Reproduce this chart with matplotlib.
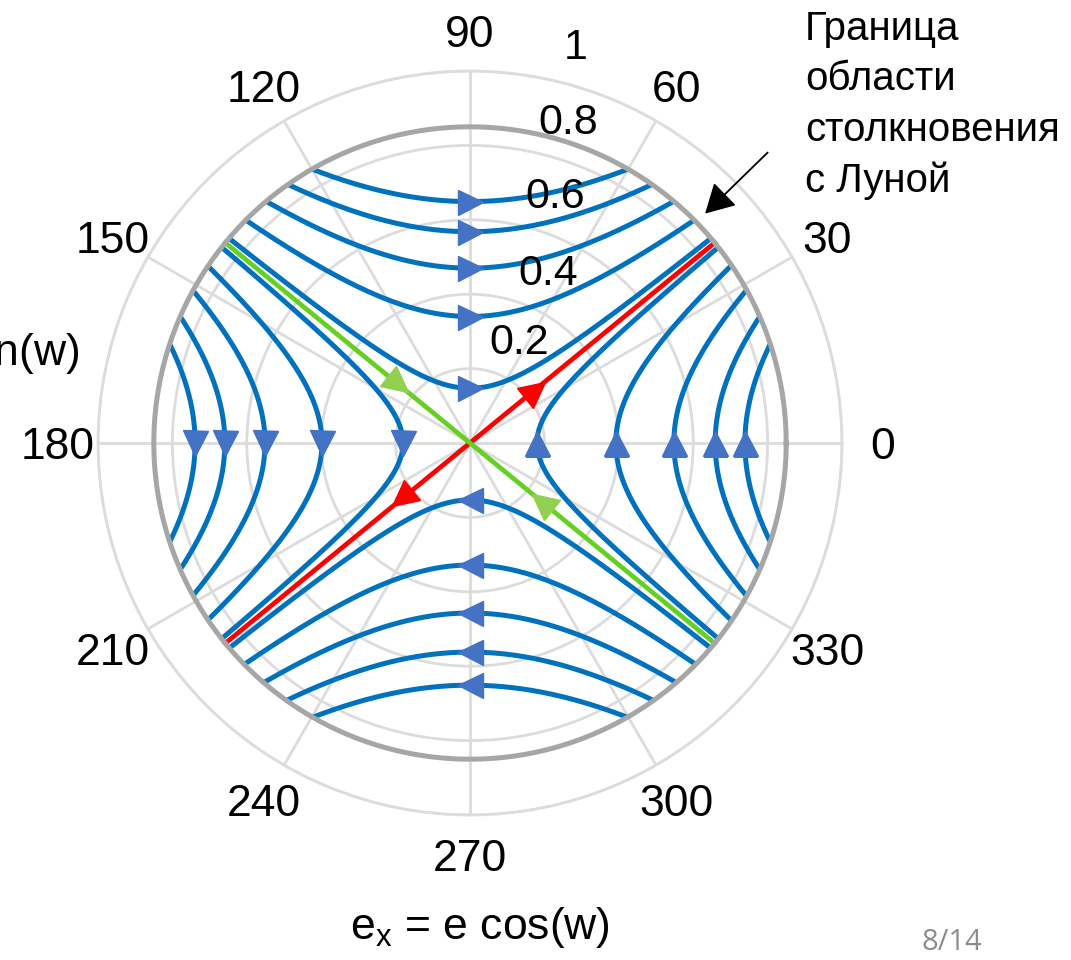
import numpy as np
import matplotlib
matplotlib.use('Agg')
import matplotlib.pyplot as plt
from matplotlib.markers import MarkerStyle
from matplotlib.transforms import Affine2D

plt.rcParams['font.family'] = 'Liberation Sans'
plt.rcParams['mathtext.fontset'] = 'custom'
plt.rcParams['mathtext.rm'] = 'Liberation Sans'
plt.rcParams['mathtext.it'] = 'Liberation Sans'

# vertices of the trajectories where they cross the axes (e units)
top_vertex = [0.649, 0.568, 0.470, 0.340, 0.147]
bottom_vertex = [0.153, 0.328, 0.457, 0.562, 0.651]
left_vertex = [0.739, 0.659, 0.551, 0.398, 0.180]
right_vertex = [0.180, 0.392, 0.548, 0.659, 0.739]

sep_angle = 39.3      # separatrix angle, deg
e_moon = 0.85         # boundary of the Moon collision region

# arrows on the separatrices: (angle deg, e)
red_arrows = [(39.3, 0.225), (219.3, 0.235)]
green_arrows = [(140.7, 0.25), (320.7, 0.25)]

theta_ticks = list(range(0, 360, 30))
r_ticks = [0.2, 0.4, 0.6, 0.8, 1.0]
r_ticklabels = ['0.2', '0.4', '0.6', '0.8', '1']
r_label_angle = [64, 65, 71, 73, 75]

BLUE = '#0072BD'
ARROW_BLUE = '#4472C4'
GRID = '#DCDCDC'

k = np.tan(np.deg2rad(sep_angle))


def branch(v, side):
    # hyperbola branch with vertex v on one axis, cut at the collision boundary
    if side in ('top', 'bottom'):
        smax = np.sqrt((e_moon**2 - v**2) / (1 + k**2))
        ex = np.linspace(-smax, smax, 400)
        ey = np.sqrt(v**2 + (k * ex)**2)
        if side == 'bottom':
            ey = -ey
    else:
        smax = np.sqrt((e_moon**2 - v**2) / (1 + 1 / k**2))
        ey = np.linspace(-smax, smax, 400)
        ex = np.sqrt(v**2 + (ey / k)**2)
        if side == 'left':
            ex = -ex
    return np.arctan2(ey, ex), np.hypot(ex, ey)


def tri(direction):
    # triangle marker pointing to direction (deg)
    return MarkerStyle('^', transform=Affine2D().rotate_deg(direction - 90))


fig = plt.figure(figsize=(10.71, 9.6), dpi=100)
ax = fig.add_axes([98 / 1071, 145 / 960, 744 / 1071, 744 / 960], projection='polar')

families = [('top', top_vertex, 90, 0), ('bottom', bottom_vertex, 270, 180),
            ('left', left_vertex, 180, 270), ('right', right_vertex, 0, 90)]
for side, verts, ang, direc in families:
    for v in verts:
        th, r = branch(v, side)
        ax.plot(th, r, color=BLUE, lw=3.6, solid_capstyle='butt', zorder=3)
    ax.plot(np.full(len(verts), np.deg2rad(ang)), verts, linestyle='none',
            marker=tri(direc), ms=18, color=ARROW_BLUE, zorder=5)

# separatrices
s = np.deg2rad(sep_angle)
ax.plot([s, s, s + np.pi], [e_moon, 0, e_moon], color='#FF0000', lw=3.4, zorder=4)
ax.plot([np.pi - s, np.pi - s, -s], [e_moon, 0, e_moon], color='#66D022', lw=3.4, zorder=4)
for a, r in red_arrows:
    ax.plot(np.deg2rad(a), r, marker=tri(a), ms=18, color='#FF0000', zorder=5)
for a, r in green_arrows:
    ax.plot(np.deg2rad(a), r, marker=tri(a + 180), ms=18, color='#92D050', zorder=5)

# collision boundary
tt = np.linspace(0, 2 * np.pi, 400)
ax.plot(tt, np.full_like(tt, e_moon), color='#A6A6A6', lw=3.6, zorder=4)

ax.set_ylim(0, 1)
ax.set_thetagrids(theta_ticks, [str(t) for t in theta_ticks], fontsize=32)
ax.set_yticks(r_ticks)
ax.set_yticklabels([])
ax.tick_params(axis='x', pad=22, length=0)
for lab in ax.xaxis.get_ticklabels():
    lab.set_verticalalignment('center_baseline')
ax.grid(True, color=GRID, lw=2)
ax.spines['polar'].set_color(GRID)
ax.spines['polar'].set_linewidth(2)

for r, lab, a in zip(r_ticks, r_ticklabels, r_label_angle):
    ax.text(np.deg2rad(a), r + 0.1, lab, fontsize=31,
            ha='center', va='center', zorder=6)

# pointer to the collision boundary
ax.annotate('', xy=(np.deg2rad(44.3), 0.883), xytext=(np.deg2rad(44.3), 1.118),
            arrowprops=dict(arrowstyle='-|>,head_length=0.9,head_width=0.5',
                            color='black', lw=1.3, mutation_scale=20,
                            shrinkA=0, shrinkB=0),
            annotation_clip=False)
fig.text(805 / 1071, 1 - 10 / 960, 'Граница\nобласти\nстолкновения\nс Луной',
         ha='left', va='top', fontsize=29, linespacing=1.41)

fig.text(480 / 1071, 1 - 939 / 960, r'$\mathregular{e_x}$ = e cos(w)',
         ha='center', va='baseline', fontsize=32)
fig.text(80 / 1071, 1 - 366 / 960, r'$\mathregular{e_y}$ = e sin(w)',
         ha='right', va='baseline', fontsize=32)
fig.text(952 / 1071, 1 - 942 / 960, '8/14', ha='center', va='center',
         fontsize=21, color='#8C8C8C', family='Open Sans')

fig.savefig('out.png', dpi=100)
